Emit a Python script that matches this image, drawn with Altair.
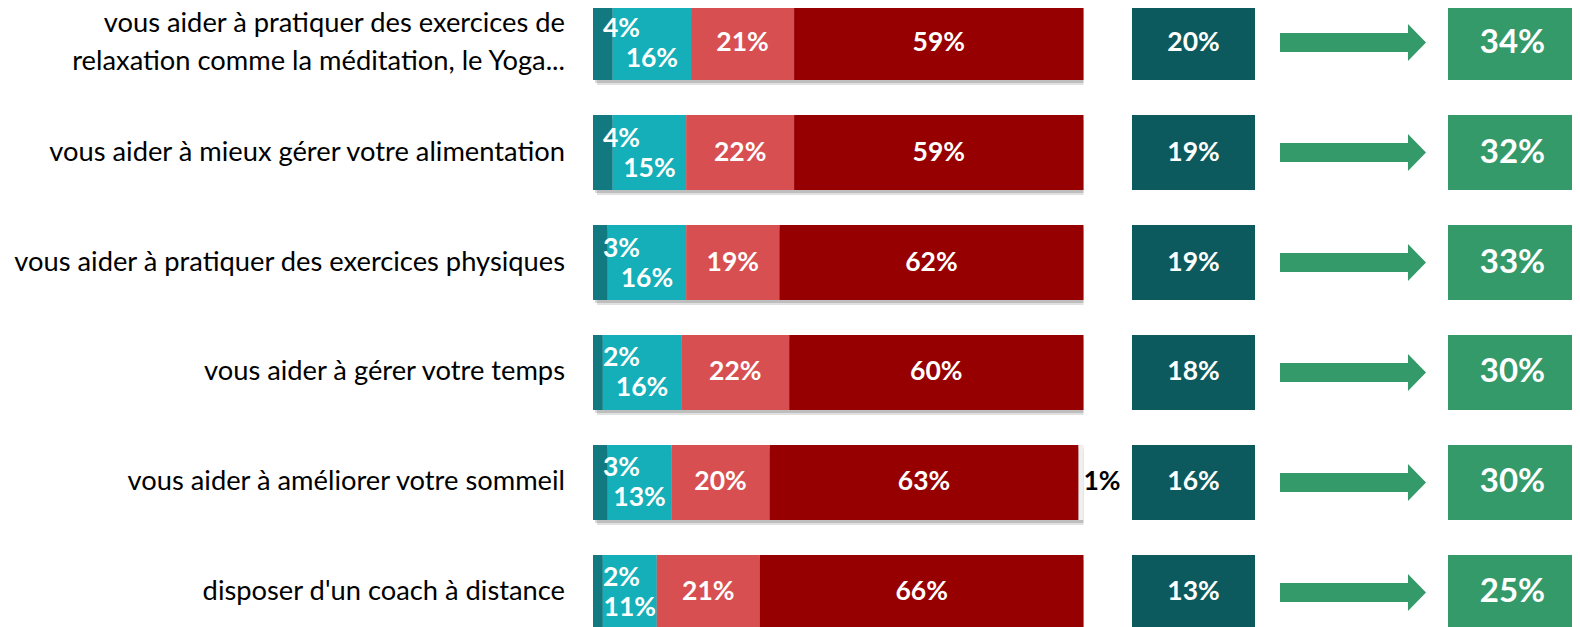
import altair as alt
import pandas as pd

# ---- data ----
categories = [
    "vous aider à pratiquer des exercices de|relaxation comme la méditation, le Yoga...",
    "vous aider à mieux gérer votre alimentation",
    "vous aider à pratiquer des exercices physiques",
    "vous aider à gérer votre temps",
    "vous aider à améliorer votre sommeil",
    "disposer d'un coach à distance",
]
series_names = ["Oui, tout à fait", "Oui, plutôt", "Non, plutôt pas", "Non, pas du tout", "Ne se prononce pas"]
series_colors = ["#127980", "#14AFB8", "#D84F51", "#960000", "#EFEFEF"]

s_tout_a_fait = [4, 4, 3, 2, 3, 2]
s_plutot = [16, 15, 16, 16, 13, 11]
s_plutot_pas = [21, 22, 19, 22, 20, 21]
s_pas_du_tout = [59, 59, 62, 60, 63, 66]
s_nsp = [0, 0, 0, 0, 1, 0]

box_left_vals = [20, 19, 19, 18, 16, 13]
box_right_vals = [34, 32, 33, 30, 30, 25]

# ---- tables built from the arrays ----
rows = []
for i, c in enumerate(categories):
    vals = [s_tout_a_fait[i], s_plutot[i], s_plutot_pas[i], s_pas_du_tout[i], s_nsp[i]]
    start = 0
    for k, (n, v) in enumerate(zip(series_names, vals)):
        rows.append(dict(cat=c, series=n, k=k, value=v, start=start, end=start + v,
                         mid=start + v / 2, label=f"{v}%"))
        start += v
seg = pd.DataFrame(rows)
totals = seg.groupby("cat", sort=False)["end"].max().reindex(categories).tolist()
boxes = pd.DataFrame(dict(
    cat=categories,
    zero=[0] * len(categories),
    total=totals,
    left=[f"{v}%" for v in box_left_vals],
    right=[f"{v}%" for v in box_right_vals],
))

line_rows = []
for c in categories:
    parts = c.split("|")
    for j, p in enumerate(parts):
        line_rows.append(dict(cat=c, line=p, idx=j, n=len(parts)))
lines = pd.DataFrame(line_rows)

FONT = "Lato"
XS = alt.Scale(domain=[0, 979 / 4.905], nice=False, zero=True)

Y = alt.Y("cat:N", sort=categories, scale=alt.Scale(paddingInner=0.318, paddingOuter=0), axis=None)

shadow1 = alt.Chart(boxes).mark_bar(color="#000000", opacity=0.12, xOffset=4, yOffset=5).encode(
    y=Y, x=alt.X("zero:Q", scale=XS, axis=None), x2="total:Q")
shadow2 = alt.Chart(boxes).mark_bar(color="#000000", opacity=0.15, xOffset=2, yOffset=3).encode(
    y=Y, x=alt.X("zero:Q", scale=XS, axis=None), x2="total:Q")

bars = alt.Chart(seg).transform_filter("datum.value > 0").mark_bar().encode(
    y=Y,
    x=alt.X("start:Q", scale=XS, axis=None),
    x2="end:Q",
    color=alt.Color("series:N", scale=alt.Scale(domain=series_names, range=series_colors), legend=None),
)

txt = dict(font=FONT, fontWeight="bold", fontSize=26.5, color="white", baseline="middle")

big_labels = alt.Chart(seg).transform_filter("datum.k == 2 || datum.k == 3").mark_text(
    align="center", **txt).encode(y=Y, x=alt.X("mid:Q", scale=XS, axis=None), text="label:N")
first_labels = alt.Chart(seg).transform_filter("datum.k == 0").mark_text(
    align="left", dx=10, dy=-14, **txt).encode(y=Y, x=alt.X("start:Q", scale=XS, axis=None), text="label:N")
second_labels = alt.Chart(seg).transform_filter("datum.k == 1").mark_text(
    align="center", dy=16, **txt).encode(y=Y, x=alt.X("mid:Q", scale=XS, axis=None), text="label:N")
nsp_labels = alt.Chart(seg).transform_filter("datum.k == 4 && datum.value > 0").mark_text(
    align="left", dx=0, font=FONT, fontWeight="bold", fontSize=26.5, color="#000000", baseline="middle"
).encode(y=Y, x=alt.X("end:Q", scale=XS, axis=None), text="label:N")

cat_txt = dict(font=FONT, fontSize=27.3, color="#000000", baseline="middle", align="right")
cat_single = alt.Chart(lines).transform_filter("datum.n == 1").mark_text(**cat_txt).encode(
    y=Y, x=alt.value(-28), text="line:N")
cat_top = alt.Chart(lines).transform_filter("datum.n == 2 && datum.idx == 0").mark_text(
    dy=-18.5, **cat_txt).encode(y=Y, x=alt.value(-28), text="line:N")
cat_bottom = alt.Chart(lines).transform_filter("datum.n == 2 && datum.idx == 1").mark_text(
    dy=19.5, **cat_txt).encode(y=Y, x=alt.value(-28), text="line:N")

box_left = alt.Chart(boxes).mark_rect(color="#0C5A5D").encode(
    y=Y, x=alt.value(539), x2=alt.value(662))
box_left_txt = alt.Chart(boxes).mark_text(align="center", **txt).encode(
    y=Y, x=alt.value(600.5), text="left:N")

ARROW = "M-1,-0.13L0.753,-0.13L0.753,-0.253L1,0L0.753,0.253L0.753,0.13L-1,0.13Z"
arrow = alt.Chart(boxes).mark_point(shape=ARROW, size=146 ** 2, filled=True, color="#359A6A",
                                    opacity=1, strokeWidth=0).encode(y=Y, x=alt.value(760))

box_right = alt.Chart(boxes).mark_rect(color="#359A6A").encode(
    y=Y, x=alt.value(855), x2=alt.value(984))
box_right_txt = alt.Chart(boxes).mark_text(align="center", font=FONT, fontWeight="bold", fontSize=33,
                                           color="white", baseline="middle").encode(
    y=Y, x=alt.value(919.5), text="right:N")

chart = alt.layer(
    shadow1, shadow2, bars, big_labels, first_labels, second_labels, nsp_labels,
    cat_single, cat_top, cat_bottom,
    box_left, box_left_txt, arrow, box_right, box_right_txt,
).properties(
    width=979, height=625,
    autosize=alt.AutoSizeParams(type="none"),
    padding={"left": 585, "top": -3, "right": 0, "bottom": 0},
    background="white",
).configure_view(stroke=None)

chart.save("out.html", embed_options={"renderer": "svg", "actions": False})
